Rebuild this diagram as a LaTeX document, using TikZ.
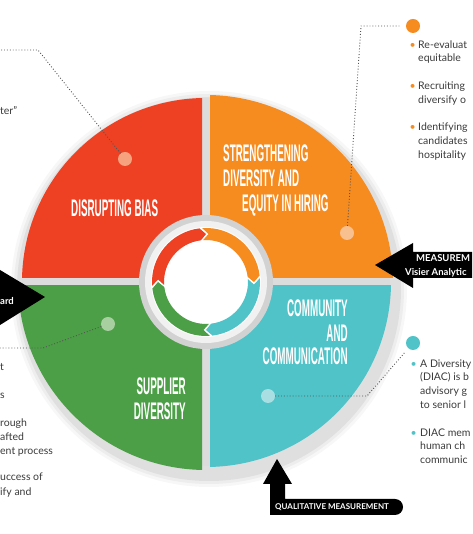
\documentclass[tikz,border=0pt]{standalone}
\usepackage{fontspec}
\setmainfont{Lato}
\newfontfamily\titlefont[FakeStretch=0.41]{Liberation Sans}
\usetikzlibrary{positioning}
\definecolor{biasRed}{HTML}{EE4023}
\definecolor{hiringOrange}{HTML}{F68B1F}
\definecolor{communityTeal}{HTML}{4FC3C8}
\definecolor{supplierGreen}{HTML}{4C9F47}
\definecolor{biasSpotC}{HTML}{F6A27F}
\definecolor{hiringSpotC}{HTML}{F9C08F}
\definecolor{communitySpotC}{HTML}{A9DFE2}
\definecolor{supplierSpotC}{HTML}{A8CFA0}
\definecolor{gapGrey}{HTML}{DCDCDC}
\definecolor{ringGrey}{HTML}{D2D2D2}
\definecolor{ringLight}{HTML}{F1F1F1}
\definecolor{bodyGrey}{HTML}{3A3A3A}
\definecolor{leaderGrey}{HTML}{555555}
\tikzset{
  quadtitle/.style={font=\titlefont\bfseries\fontsize{24}{25}\selectfont, text=white, inner sep=0pt},
  bodytext/.style={font=\fontsize{10.5}{12}\selectfont, text=bodyGrey, inner sep=0pt, anchor=mid west},
  bulletmark/.style={font=\fontsize{10.5}{12}\selectfont, inner sep=0pt, anchor=mid east},
  tagtext/.style={font=\bfseries\fontsize{9.5}{11}\selectfont, text=white, inner sep=0pt, anchor=mid west},
  spotdot/.style={circle, inner sep=0pt, minimum size=14pt},
  leader/.style={dotted, line width=0.9pt, draw=leaderGrey}
}
\begin{document}
\begin{tikzpicture}[x=1pt, y=1pt]
  \useasboundingbox (0,0) rectangle (472,534);
  \clip (0,0) rectangle (472,534);
  \coordinate (hub) at (206,252);

  % soft shadow under the wheel
  \foreach \r/\o in {198/0.03, 195/0.04, 192/0.06}
    \fill[black, opacity=\o] ([shift={(3,-7)}]hub) circle[radius=\r pt];
  \fill[gapGrey] (hub) circle[radius=184pt];

  % four quadrants
  \foreach \col/\sx/\sy/\r in {biasRed/-1/1/184, hiringOrange/1/1/187, communityTeal/1/-1/185, supplierGreen/-1/-1/188}{
    \begin{scope}
      \clip ([shift={(\sx*4,\sy*4)}]hub) rectangle ++(\sx*240,\sy*300);
      \fill[\col] (hub) circle[radius=\r pt];
    \end{scope}
  }

  % centre ring with cycle arrows
  \fill[ringGrey] (hub) circle[radius=67pt];
  \fill[ringLight] (hub) circle[radius=61pt];
  \fill[white] (hub) circle[radius=55pt];
  \begin{scope}[shift={(hub)}]
    \foreach \col/\s in {biasRed/180, hiringOrange/90, communityTeal/0, supplierGreen/-90}{
      \pgfmathsetmacro\e{\s-90}
      \fill[\col] ({\s+4}:54) arc[start angle=\s+4, end angle=\e+7, radius=54pt]
        -- (\e:48) -- ({\e+7}:42) arc[start angle=\e+7, end angle=\s+4, radius=42pt]
        -- ({\s-3}:48) -- cycle;
    }
  \end{scope}

  % quadrant titles
  \node[quadtitle, anchor=base west] (biasTitle) at (71,317) {DISRUPTING BIAS};
  \node[quadtitle, anchor=base west] (hireTitleA) at (223,372) {STRENGTHENING};
  \node[quadtitle, anchor=base west] (hireTitleB) at (223,347) {DIVERSITY AND};
  \node[quadtitle, anchor=base west] (hireTitleC) at (242,322) {EQUITY IN HIRING};
  \node[quadtitle, anchor=base east] (commTitleA) at (348,217) {COMMUNITY};
  \node[quadtitle, anchor=base east] (commTitleB) at (348,192) {AND};
  \node[quadtitle, anchor=base east] (commTitleC) at (348,169) {COMMUNICATION};
  \node[quadtitle, anchor=base east] (supTitleA) at (186,139) {SUPPLIER};
  \node[quadtitle, anchor=base east] (supTitleB) at (186,114) {DIVERSITY};

  % spots and dotted leaders
  \node[spotdot, fill=biasSpotC] (biasSpot) at (125,375) {};
  \node[spotdot, fill=hiringSpotC] (hiringSpot) at (347,301) {};
  \node[spotdot, fill=supplierSpotC] (supplierSpot) at (108,210) {};
  \node[spotdot, fill=communitySpotC] (communitySpot) at (268,138) {};
  \node[spotdot, fill=hiringOrange] (hiringHead) at (413,508) {};
  \node[spotdot, fill=communityTeal] (communityHead) at (413,191) {};
  \coordinate (biasBend) at (38,484);
  \coordinate (biasEnd) at (0,484);
  \coordinate (hiringBend) at (361,508);
  \coordinate (supplierBend) at (43,186);
  \coordinate (supplierEnd) at (0,186);
  \coordinate (communityBend) at (367,138);
  \draw[leader] (biasSpot) -- (biasBend) -- (biasEnd);
  \draw[leader, shorten >=5pt] (hiringSpot) -- (hiringBend) -- (hiringHead);
  \draw[leader] (supplierSpot) -- (supplierBend) -- (supplierEnd);
  \draw[leader, shorten >=5pt] (communitySpot) -- (communityBend) -- (communityHead);

  % side texts
  \foreach [count=\i] \txt/\y in {Re-evaluat/488, equitable/475, Recruiting/447, diversify o/433,
      Identifying/406, candidates/392, hospitality/378}
    \node[bodytext] (hireTxt\i) at (418,\y) {\txt};
  \foreach \i in {1,3,5}
    \node[bulletmark, text=hiringOrange, left=2pt of hireTxt\i.mid west] (hireBul\i) {•};
  \foreach [count=\i] \txt/\y in {A Diversity/169, (DIAC) is b/156, advisory g/142, to senior l/128,
      DIAC mem/100, human ch/87, communic/73}
    \node[bodytext] (commTxt\i) at (420,\y) {\txt};
  \foreach \i in {1,5}
    \node[bulletmark, text=communityTeal, left=3pt of commTxt\i.mid west] (commBul\i) {•};
  \foreach [count=\i] \txt/\y in {ter”/422, t/166, s/138, rough/110, afted/96, ent process/82,
      uccess of/56, ify and/41}
    \node[bodytext] (leftTxt\i) at (0,\y) {\txt};

  % black measurement arrows
  \fill[black] (375,269) -- (413,291) -- (413,282) -- (472,282) -- (472,256)
    -- (413,256) -- (413,246) -- cycle;
  \node[tagtext] (measureTop) at (416,275) {MEASUREM};
  \node[tagtext] (measureSub) at (405,261) {Visier Analytic};
  \fill[black] (0,264) -- (45,237) -- (0,209) -- cycle;
  \node[tagtext] (leftTag) at (0,232) {ard};
  \fill[black] (277,75) -- (292,50) -- (285,50) -- (285,35) -- (395,35)
    arc[start angle=90, end angle=-90, radius=8pt] -- (270,19) -- (270,50) -- (263,50) -- cycle;
  \node[tagtext, font=\bfseries\fontsize{8}{9}\selectfont, anchor=mid west] (qualTag) at (275,27) {QUALITATIVE MEASUREMENT};
\end{tikzpicture}
\end{document}
